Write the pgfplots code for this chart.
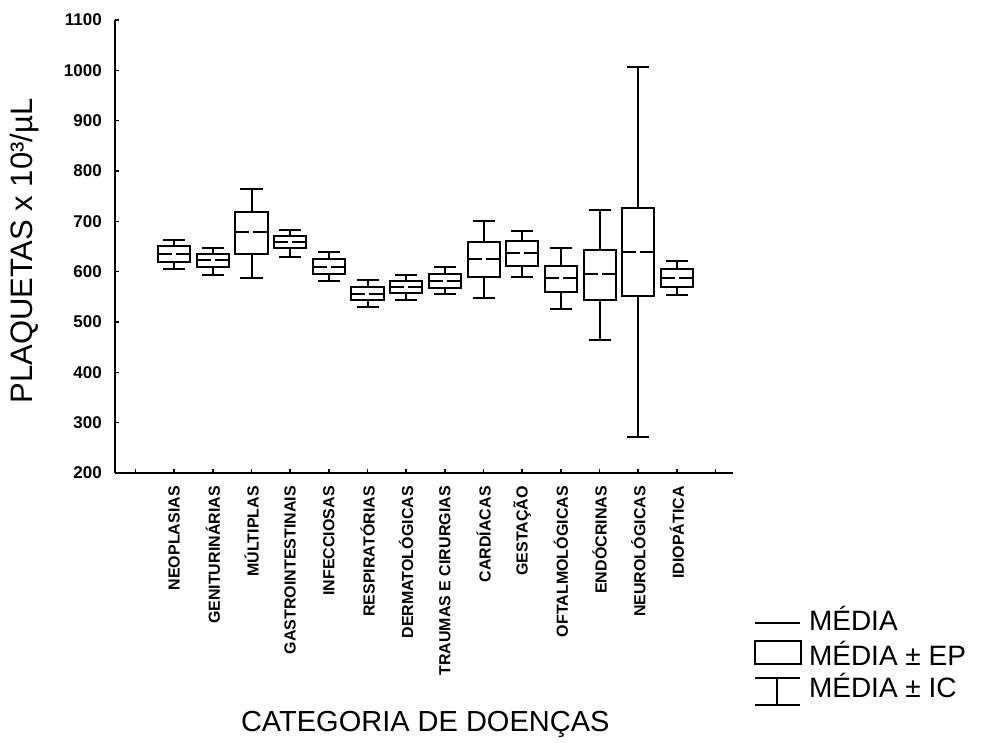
\documentclass[border=0pt]{standalone}
\usepackage{fontspec}
\setmainfont{Liberation Sans}
\usepackage{pgfplots}
\pgfplotsset{compat=1.18}
\usepgfplotslibrary{statistics}

\begin{document}
\begin{tikzpicture}
\begin{axis}[
  name=ax,
  scale only axis, width=618pt, height=453pt,
  xmin=-0.53, xmax=15.45, ymin=200, ymax=1100,
  axis lines=left, axis line style={-, line width=1.6pt},
  tick align=inside, major tick length=4pt,
  tick style={line width=1.6pt, black},
  xtick={0,...,15},
  xticklabels={{},NEOPLASIAS,GENITURINÁRIAS,MÚLTIPLAS,GASTROINTESTINAIS,INFECCIOSAS,RESPIRATÓRIAS,DERMATOLÓGICAS,TRAUMAS E CIRURGIAS,CARDÍACAS,GESTAÇÃO,OFTALMOLÓGICAS,ENDÓCRINAS,NEUROLÓGICAS,IDIOPÁTICA,{}},
  ytick={200,300,...,1100},
  /pgf/number format/assume math mode=true,
  /pgf/number format/1000 sep={},
  xticklabel style={rotate=90, anchor=east, inner xsep=13pt, inner ysep=0pt, font=\bfseries\fontsize{16}{16}\selectfont},
  yticklabel style={anchor=east, inner xsep=13pt, inner ysep=0pt, font=\bfseries\fontsize{17}{17}\selectfont},
  xlabel={CATEGORIA DE DOENÇAS},
  xlabel style={at={(axis description cs:0.502,-0.570)}, anchor=base, font=\fontsize{29}{30}\selectfont},
  ylabel={PLAQUETAS x 10³/µL},
  ylabel style={at={(axis description cs:-0.146,0.49)}, anchor=center, font=\fontsize{31}{32}\selectfont},
  boxplot/draw direction=y,
  boxplot/box extend=0.83,
  boxplot/whisker extend=0.57,
  boxplot/every box/.style={draw=black, solid, line width=2pt},
  boxplot/every whisker/.style={draw=black, solid, line width=2pt},
  boxplot/every median/.style={draw=black, line width=2pt, dash pattern=on 14pt off 4pt},
]
\addplot+[black, solid, mark=none, boxplot prepared={draw position=1, lower whisker=605, lower quartile=619, median=635, upper quartile=651, upper whisker=663}] coordinates {};
\addplot+[black, solid, mark=none, boxplot prepared={draw position=2, lower whisker=593, lower quartile=609, median=623, upper quartile=635, upper whisker=647}] coordinates {};
\addplot+[black, solid, mark=none, boxplot prepared={draw position=3, lower whisker=587, lower quartile=635, median=678, upper quartile=719, upper whisker=764}] coordinates {};
\addplot+[black, solid, mark=none, boxplot prepared={draw position=4, lower whisker=629, lower quartile=647, median=658, upper quartile=671, upper whisker=683}] coordinates {};
\addplot+[black, solid, mark=none, boxplot prepared={draw position=5, lower whisker=582, lower quartile=595, median=609, upper quartile=626, upper whisker=640}] coordinates {};
\addplot+[black, solid, mark=none, boxplot prepared={draw position=6, lower whisker=530, lower quartile=544, median=556, upper quartile=569, upper whisker=583}] coordinates {};
\addplot+[black, solid, mark=none, boxplot prepared={draw position=7, lower whisker=544, lower quartile=558, median=570, upper quartile=581, upper whisker=593}] coordinates {};
\addplot+[black, solid, mark=none, boxplot prepared={draw position=8, lower whisker=556, lower quartile=567, median=581, upper quartile=595, upper whisker=609}] coordinates {};
\addplot+[black, solid, mark=none, boxplot prepared={draw position=9, lower whisker=548, lower quartile=590, median=625, upper quartile=658, upper whisker=700}] coordinates {};
\addplot+[black, solid, mark=none, boxplot prepared={draw position=10, lower whisker=590, lower quartile=612, median=637, upper quartile=660, upper whisker=681}] coordinates {};
\addplot+[black, solid, mark=none, boxplot prepared={draw position=11, lower whisker=526, lower quartile=560, median=587, upper quartile=611, upper whisker=647}] coordinates {};
\addplot+[black, solid, mark=none, boxplot prepared={draw position=12, lower whisker=464, lower quartile=544, median=595, upper quartile=643, upper whisker=722}] coordinates {};
\addplot+[black, solid, mark=none, boxplot prepared={draw position=13, lower whisker=271, lower quartile=552, median=639, upper quartile=726, upper whisker=1007}] coordinates {};
\addplot+[black, solid, mark=none, boxplot prepared={draw position=14, lower whisker=553, lower quartile=570, median=587, upper quartile=605, upper whisker=621}] coordinates {};
\end{axis}
\begin{scope}[shift={(ax.south west)}, line width=2pt]
  \draw (640pt,-150pt) -- (685pt,-150pt);
  \node[anchor=base west, inner sep=0pt, font=\fontsize{28}{30}\selectfont] at (693pt,-157pt) {MÉDIA};
  \draw (640pt,-168pt) rectangle (686pt,-191pt);
  \node[anchor=base west, inner sep=0pt, font=\fontsize{28}{30}\selectfont] at (693pt,-192pt) {MÉDIA ± EP};
  \draw (640pt,-205pt) -- (685pt,-205pt) (662pt,-205pt) -- (662pt,-232pt) (640pt,-232pt) -- (685pt,-232pt);
  \node[anchor=base west, inner sep=0pt, font=\fontsize{28}{30}\selectfont] at (693pt,-224pt) {MÉDIA ± IC};
\end{scope}
\pgfresetboundingbox
\path[use as bounding box] (ax.south west) ++(-115pt,-269pt) rectangle ++(984pt,742pt);
\end{tikzpicture}
\end{document}
